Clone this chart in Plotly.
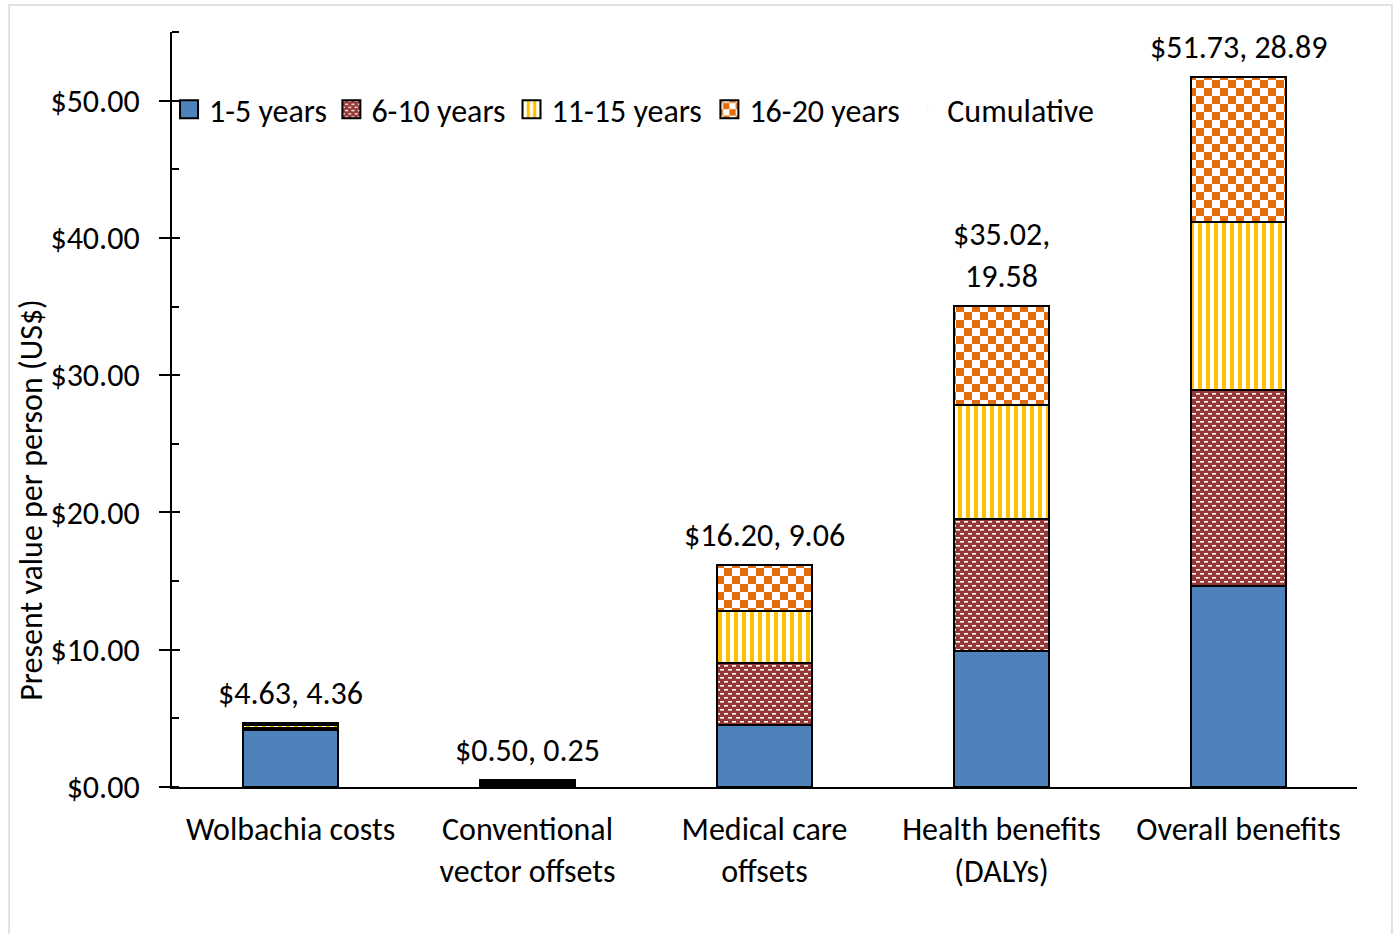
import plotly.graph_objects as go

# Present value per person (US$) by period, stacked per category
categories = [
    "Wolbachia costs",
    "Conventional<br>vector offsets",
    "Medical care<br>offsets",
    "Health benefits<br>(DALYs)",
    "Overall benefits",
]
yr_1_5 = [4.15, 0.17, 4.52, 9.91, 14.65]
yr_6_10 = [0.18, 0.13, 4.49, 9.62, 14.29]
yr_11_15 = [0.16, 0.11, 3.84, 8.31, 12.22]
yr_16_20 = [0.14, 0.09, 3.35, 7.18, 10.57]
# second figure shown in each cumulative label
cumulative_second = [4.36, 0.25, 9.06, 19.58, 28.89]
label_sep = [", ", ", ", ", ", ",<br>", ", "]

FONT = "Carlito, Lato, sans-serif"
FS = 32
BLACK = "#000000"
BLUE = "#4F81BD"
RED = "#953735"
YELLOW = "#FFC000"
ORANGE = "#E46C0A"

outline = dict(color=BLACK, width=2)

fig = go.Figure()
fig.add_trace(go.Bar(
    name="1-5 years", x=categories, y=yr_1_5, legend="legend",
    marker=dict(color=BLUE, line=outline),
))
fig.add_trace(go.Bar(
    name="6-10 years", x=categories, y=yr_6_10, uid="brk610", legend="legend2",
    marker=dict(color=RED, line=outline,
                pattern=dict(shape=".", fgcolor="#FFFFFF", bgcolor=RED,
                             size=5, solidity=0.2, fillmode="replace")),
))
fig.add_trace(go.Bar(
    name="11-15 years", x=categories, y=yr_11_15, legend="legend3",
    marker=dict(color=YELLOW, line=outline,
                pattern=dict(shape="|", fgcolor=YELLOW, bgcolor="#FFFFFF",
                             size=8, solidity=0.5, fillmode="replace")),
))
fig.add_trace(go.Bar(
    name="16-20 years", x=categories, y=yr_16_20, uid="chk1620", legend="legend4",
    marker=dict(color=ORANGE, line=outline,
                pattern=dict(shape="+", fgcolor=ORANGE, bgcolor="#FFFFFF",
                             size=16, solidity=0.5, fillmode="replace")),
))
# legend-only entry for the cumulative labels
fig.add_trace(go.Scatter(
    name="Cumulative", x=[None], y=[None], mode="markers", legend="legend5",
    marker=dict(opacity=0, size=1),
))

totals = [a + b + c + d for a, b, c, d in zip(yr_1_5, yr_6_10, yr_11_15, yr_16_20)]
for cat, tot, sec, sep in zip(categories, totals, cumulative_second, label_sep):
    fig.add_annotation(
        x=cat, y=tot, xref="x", yref="y",
        text=f"${tot:.2f}{sep}{sec:.2f}",
        showarrow=False, yanchor="bottom", yshift=8,
        font=dict(family=FONT, size=FS, color=BLACK),
    )

# y-axis title
fig.add_annotation(
    text="Present value per person (US$)", xref="paper", yref="paper",
    x=-0.1185, y=0.38, textangle=-90, showarrow=False,
    xanchor="center", yanchor="middle",
    font=dict(family=FONT, size=FS, color=BLACK),
)

# outer chart border
fig.add_shape(
    type="rect", xref="paper", yref="paper",
    x0=-0.1375, x1=1.0295, y0=-0.25, y1=1.0358,
    line=dict(color="#D9D9D9", width=1.5), fillcolor="rgba(0,0,0,0)", layer="below",
)

legend_row_y = 0.8975
legend_common = dict(
    orientation="h", y=legend_row_y, xanchor="left", yanchor="middle",
    font=dict(family=FONT, size=FS, color=BLACK),
    bgcolor="rgba(0,0,0,0)", itemwidth=30,
)

fig.update_layout(
    width=1395, height=934,
    margin=dict(l=172, r=38, t=32, b=147),
    paper_bgcolor="#FFFFFF", plot_bgcolor="#FFFFFF",
    barmode="stack", bargap=0.6,
    font=dict(family=FONT, size=FS, color=BLACK),
    showlegend=True,
    legend=dict(x=-0.0025, **legend_common),
    legend2=dict(x=0.1345, **legend_common),
    legend3=dict(x=0.2865, **legend_common),
    legend4=dict(x=0.4535, **legend_common),
    legend5=dict(x=0.6205, **legend_common),
    xaxis=dict(
        showline=True, linecolor=BLACK, linewidth=2, ticks="",
        showgrid=False, zeroline=False, tickfont=dict(family=FONT, size=FS),
        ticklabelstandoff=13,
    ),
    yaxis=dict(
        range=[0, 55], dtick=10, tick0=0, tickprefix="$", tickformat=".2f",
        showline=True, linecolor=BLACK, linewidth=2,
        ticks="outside", ticklen=11, tickwidth=2, tickcolor=BLACK,
        minor=dict(dtick=5, ticks="inside", ticklen=7, tickwidth=2, tickcolor=BLACK),
        showgrid=False, zeroline=False, ticklabelstandoff=13,
        tickfont=dict(family=FONT, size=FS),
    ),
    yaxis2=dict(
        range=[0, 55], dtick=10, tick0=0, overlaying="y", side="left",
        anchor="x", showticklabels=False, showline=False, showgrid=False,
        zeroline=False, ticks="inside", ticklen=8, tickwidth=2, tickcolor=BLACK,
    ),
    hovermode=False,
)
# empty trace so the second y axis (inner half of the major ticks) is drawn
fig.add_trace(go.Scatter(x=[categories[0]], y=[None], yaxis="y2", showlegend=False, mode="markers"))

# checkerboard and brick fills for the patterned segments, larger legend swatches
post = """
var gd = document.getElementById('{plot_id}');
function fillPatterns(){
  var ns = 'http://www.w3.org/2000/svg';
  document.querySelectorAll('pattern').forEach(function(p){
    var kind = null;
    if (p.id.indexOf('chk1620') >= 0) kind = 'chk';
    else if (p.id.indexOf('brk610') >= 0) kind = 'brk';
    if (!kind) return;
    while (p.firstChild) p.removeChild(p.firstChild);
    function rect(x, y, w, h, c){
      var r = document.createElementNS(ns, 'rect');
      r.setAttribute('x', x); r.setAttribute('y', y);
      r.setAttribute('width', w); r.setAttribute('height', h);
      r.setAttribute('fill', c); r.setAttribute('stroke', 'none');
      p.appendChild(r);
    }
    if (kind === 'chk') {
      p.setAttribute('width', 16); p.setAttribute('height', 16);
      rect(0, 0, 16, 16, '#FFFFFF');
      rect(0, 0, 8, 8, '#E46C0A');
      rect(8, 8, 8, 8, '#E46C0A');
    } else {
      p.setAttribute('width', 8); p.setAttribute('height', 8);
      rect(0, 0, 8, 8, '#953735');
      rect(0, 1, 4, 1.6, '#FFFFFF');
      rect(4, 5, 4, 1.6, '#FFFFFF');
    }
  });
  document.querySelectorAll('.legendpoints path').forEach(function(el){
    var d = (el.getAttribute('d') || '').replace(/\\s/g, '');
    if (d === 'M6,6H-6V-6H6Z') el.setAttribute('d', 'M9,9H-9V-9H9Z');
  });
}
fillPatterns();
gd.on('plotly_afterplot', fillPatterns);
"""

fig.write_html("out.html", post_script=post)
